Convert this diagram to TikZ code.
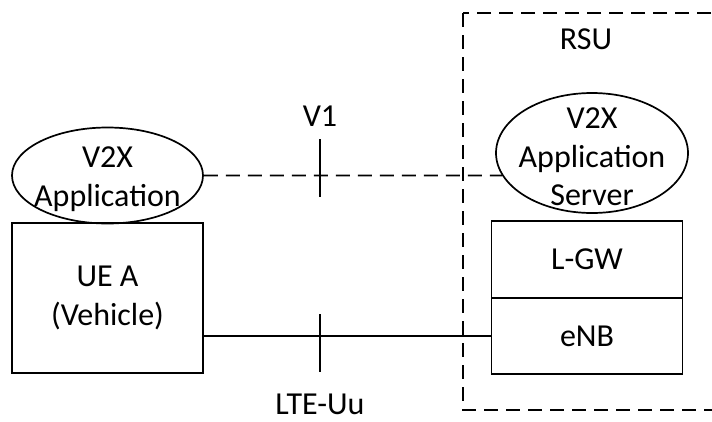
\documentclass[tikz,border=0pt]{standalone}
\usepackage{fontspec}
\setmainfont{Carlito}
\usetikzlibrary{shapes.geometric,positioning}

\begin{document}
\begin{tikzpicture}[x=1pt, y=-1pt, line width=1.7pt,
  font=\fontsize{32}{38.5}\selectfont,
  box/.style={draw, rectangle, minimum width=191pt, outer sep=0pt, align=center},
  oval/.style={draw, ellipse, inner sep=0pt},
  iface/.style={dash pattern=on 14pt off 8pt}]

\clip (0,0) rectangle (712,421);

% roadside unit frame
\draw[iface] (463,13) rectangle (740,410);
\node[inner sep=1pt] (rsu) at (586,39) {RSU};

% vehicle side
\node[oval, minimum width=191pt, minimum height=96pt] (app) at (107.5,175.5) {};
\node[align=center, inner sep=0pt] (apptxt) at (107.5,179) {V2X\\Application};
\node[box, minimum height=150pt] (ue) at (107.5,298) {UE A\\(Vehicle)};

% RSU side
\node[oval, minimum width=192pt, minimum height=120pt] (srv) at (592,153) {};
\node[align=center, inner sep=0pt] (srvtxt) at (592,157) {V2X\\Application\\Server};
\node[box, minimum height=77pt] (lgw) at (587,259.5) {L-GW};
\node[box, minimum height=76pt, below=0pt of lgw] (enb) {eNB};

% V1
\draw[iface] (app.east) -- (srv.194);
\coordinate (v1top) at (320,139);
\coordinate (v1bot) at (320,197);
\draw (v1top) -- (v1bot);
\node[inner sep=1pt] (v1) at (320,116) {V1};

% LTE-Uu
\draw (enb.west) -- (enb.west -| ue.east);
\coordinate (uutop) at (320,314);
\coordinate (uubot) at (320,372);
\draw (uutop) -- (uubot);
\node[inner sep=0pt] (uu) at (320,404) {LTE-Uu};

\end{tikzpicture}
\end{document}
